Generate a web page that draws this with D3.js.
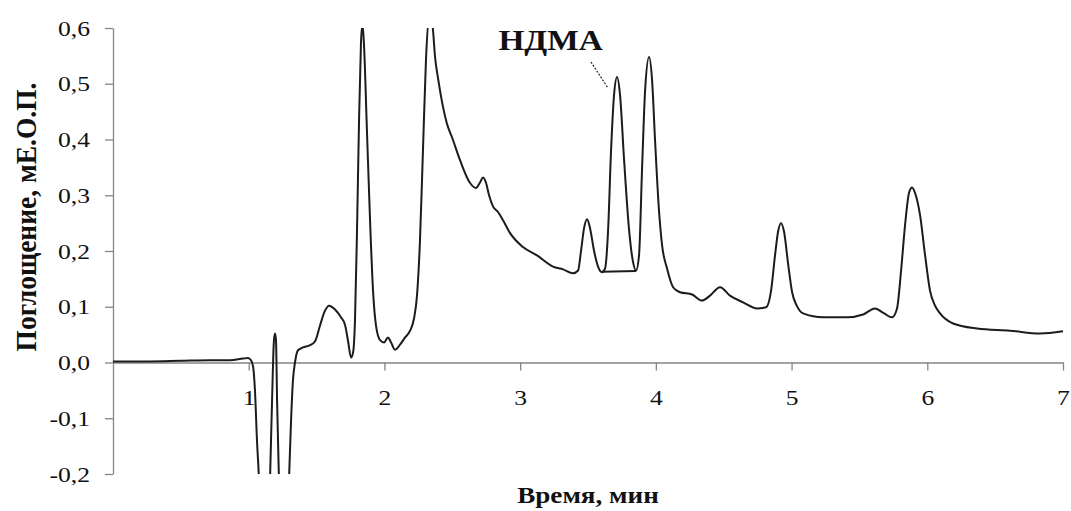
<!DOCTYPE html>
<html lang="ru">
<head>
<meta charset="utf-8">
<script src="https://cdn.jsdelivr.net/npm/d3@7"></script>
<style>
  html, body { margin: 0; padding: 0; background: #fff; }
  svg { display: block; }
  text { font-family: "Liberation Serif", "Times New Roman", serif; fill: #111; }
</style>
</head>
<body>
<svg id="chart" width="1071" height="511"></svg>
<script>
// Chromatogram: retention time (min) vs absorbance (mAU)
const timeMin = [
  0, 0.273, 0.494, 0.715, 0.862, 0.958, 0.995, 1.017, 1.032, 1.046, 1.061, 1.076,
  1.113, 1.157, 1.172, 1.186, 1.194, 1.201, 1.209, 1.223, 1.26, 1.297, 1.312, 1.326,
  1.341, 1.363, 1.4, 1.452, 1.489, 1.525, 1.562, 1.592, 1.636, 1.68, 1.709, 1.731,
  1.754, 1.769, 1.783, 1.798, 1.813, 1.827, 1.838, 1.849, 1.871, 1.894, 1.916, 1.938,
  1.968, 1.997, 2.026, 2.049, 2.078, 2.115, 2.152, 2.189, 2.218, 2.24, 2.262, 2.284,
  2.306, 2.336, 2.358, 2.373, 2.395, 2.432, 2.461, 2.498, 2.557, 2.631, 2.675, 2.704, 2.727,
  2.749, 2.771, 2.8, 2.837, 2.874, 2.926, 3.021, 3.124, 3.242, 3.316, 3.39, 3.427,
  3.449, 3.471, 3.493, 3.515, 3.544, 3.574, 3.603, 3.626, 3.648, 3.67, 3.692, 3.714,
  3.736, 3.766, 3.803, 3.832, 3.854, 3.876, 3.898, 3.921, 3.95, 3.972, 3.994, 4.023,
  4.046, 4.082, 4.127, 4.178, 4.267, 4.34, 4.399, 4.473, 4.546, 4.643, 4.746, 4.812,
  4.849, 4.878, 4.9, 4.922, 4.945, 4.974, 5.004, 5.04, 5.085, 5.232, 5.409, 5.527,
  5.615, 5.682, 5.74, 5.777, 5.807, 5.836, 5.866, 5.888, 5.91, 5.947, 5.984, 6.02,
  6.057, 6.094, 6.19, 6.367, 6.61, 6.831, 7.0
];
const absorbance = [
  0.002, 0.002, 0.003, 0.004, 0.004, 0.007, 0.008, 0.004, -0.007, -0.05, -0.14, -0.21,
  -0.5, -0.21, -0.068, 0.04, 0.052, 0.04, -0.068, -0.21, -0.5, -0.21, -0.104, -0.032,
  0, 0.022, 0.027, 0.031, 0.038, 0.066, 0.093, 0.102, 0.095, 0.081, 0.068, 0.04,
  0.009, 0.018, 0.075, 0.237, 0.435, 0.572, 0.607, 0.572, 0.417, 0.255, 0.129, 0.066,
  0.04, 0.036, 0.045, 0.036, 0.023, 0.032, 0.045, 0.057, 0.079, 0.12, 0.219, 0.381,
  0.542, 0.632, 0.596, 0.548, 0.51, 0.458, 0.428, 0.404, 0.363, 0.322, 0.313, 0.323, 0.332,
  0.322, 0.3, 0.28, 0.27, 0.255, 0.232, 0.207, 0.192, 0.172, 0.167, 0.16, 0.165,
  0.201, 0.241, 0.257, 0.241, 0.201, 0.172, 0.162, 0.169, 0.237, 0.381, 0.48, 0.512,
  0.48, 0.363, 0.237, 0.18, 0.165, 0.192, 0.345, 0.489, 0.548, 0.507, 0.399, 0.273,
  0.21, 0.169, 0.135, 0.126, 0.122, 0.111, 0.12, 0.135, 0.12, 0.108, 0.097, 0.099,
  0.129, 0.192, 0.234, 0.25, 0.234, 0.178, 0.126, 0.101, 0.088, 0.081, 0.081, 0.086,
  0.097, 0.088, 0.081, 0.097, 0.165, 0.246, 0.305, 0.314, 0.304, 0.264, 0.192, 0.129,
  0.102, 0.088, 0.07, 0.061, 0.057, 0.052, 0.056
];

// Integration baseline under the НДМА peak
const ndmaBaselineTime = [3.603, 3.854];
const ndmaBaselineValue = [0.163, 0.164];

// Label and leader line for the НДМА peak
const ndmaLabel = "НДМА";
const ndmaLabelAt = [2.84, 0.561];
const ndmaLeaderTime = [3.522, 3.648];
const ndmaLeaderValue = [0.539, 0.492];

const xTicks = [1, 2, 3, 4, 5, 6, 7];
const yTicks = [-0.2, -0.1, 0.0, 0.1, 0.2, 0.3, 0.4, 0.5, 0.6];
const xTitle = "Время, мин";
const yTitle = "Поглощение, мЕ.О.П.";

const svg = d3.select("#chart");
const margin = { left: 113, right: 1063, top: 28, bottom: 474 };

const x = d3.scaleLinear().domain([0, 7]).range([margin.left, margin.right]);
const y = d3.scaleLinear().domain([-0.2, 0.6]).range([margin.bottom, margin.top]);

const axisColor = "#858585";
const labelStretch = 1.22;
const fmt = d => d.toFixed(1).replace(".", ",");

// Y axis
const gy = svg.append("g")
  .attr("transform", `translate(${margin.left},0)`)
  .call(d3.axisLeft(y).tickValues(yTicks).tickSize(8).tickSizeOuter(0).tickFormat(fmt));
gy.select(".domain").attr("stroke", axisColor).attr("stroke-width", 1.3);
gy.selectAll(".tick line").attr("stroke", axisColor).attr("stroke-width", 1.3);
gy.selectAll(".tick text")
  .attr("x", 0).attr("dy", "0.34em")
  .attr("transform", `translate(-23,0) scale(${labelStretch},1)`)
  .style("font-size", "21px").attr("fill", "#111");

// X axis along zero
const gx = svg.append("g")
  .attr("transform", `translate(0,${y(0)})`)
  .call(d3.axisBottom(x).tickValues(xTicks).tickSize(8).tickSizeOuter(0).tickFormat(d3.format("d")));
gx.select(".domain").attr("stroke", axisColor).attr("stroke-width", 1.3);
gx.selectAll(".tick line").attr("stroke", axisColor).attr("stroke-width", 1.3);
gx.selectAll(".tick text")
  .attr("y", 0).attr("dy", 0)
  .attr("transform", `translate(0,42) scale(${labelStretch},1)`)
  .style("font-size", "21px").attr("fill", "#111");
svg.selectAll(".tick text").style("font-family", "'Liberation Serif', serif");

// Trace, clipped to the plotting window
svg.append("clipPath").attr("id", "plot-clip")
  .append("rect")
  .attr("x", margin.left).attr("y", margin.top)
  .attr("width", margin.right - margin.left).attr("height", margin.bottom - margin.top);

const trace = timeMin.map((t, i) => [t, absorbance[i]]);
const line = d3.line().x(d => x(d[0])).y(d => y(d[1])).curve(d3.curveMonotoneX);

svg.append("path")
  .datum(trace)
  .attr("clip-path", "url(#plot-clip)")
  .attr("fill", "none")
  .attr("stroke", "#1c1c1c")
  .attr("stroke-width", 2)
  .attr("stroke-linejoin", "round")
  .attr("d", line);

svg.append("path")
  .datum(ndmaBaselineTime.map((t, i) => [t, ndmaBaselineValue[i]]))
  .attr("fill", "none")
  .attr("stroke", "#1c1c1c")
  .attr("stroke-width", 2)
  .attr("d", d3.line().x(d => x(d[0])).y(d => y(d[1])));

// Peak annotation
svg.append("line")
  .attr("x1", x(ndmaLeaderTime[0])).attr("y1", y(ndmaLeaderValue[0]))
  .attr("x2", x(ndmaLeaderTime[1])).attr("y2", y(ndmaLeaderValue[1]))
  .attr("stroke", "#222").attr("stroke-width", 1.2).attr("stroke-dasharray", "2,1.5");

svg.append("text")
  .attr("transform", `translate(${x(ndmaLabelAt[0])},${y(ndmaLabelAt[1])}) scale(1.15,1)`)
  .style("font-size", "29px").style("font-weight", "bold")
  .text(ndmaLabel);

// Axis titles
svg.append("text")
  .attr("transform", `translate(588,503) scale(1.18,1)`)
  .attr("text-anchor", "middle")
  .style("font-size", "23px").style("font-weight", "bold")
  .text(xTitle);

svg.append("text")
  .attr("transform", `translate(36,217) rotate(-90) scale(1,1.1)`)
  .attr("text-anchor", "middle")
  .style("font-size", "27.5px").style("font-weight", "bold")
  .text(yTitle);
</script>
</body>
</html>
